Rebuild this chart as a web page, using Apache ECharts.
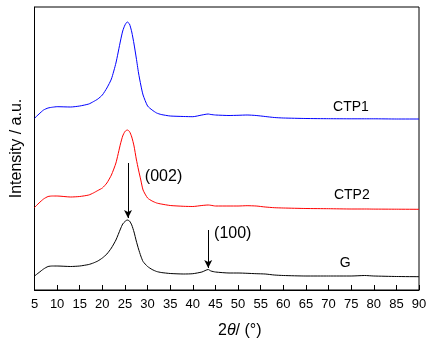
<!DOCTYPE html>
<html><head><meta charset="utf-8">
<script src="https://cdn.jsdelivr.net/npm/echarts@6/dist/echarts.min.js"></script>
<style>html,body{margin:0;padding:0;background:#fff}#c{width:436px;height:348px}</style>
</head><body><div id="c"></div>
<script>
// 2θ values (degrees)
const twoTheta = [5,6,7,8,9,10,13,15,17,18,19,20,21,22,23,24,24.5,25,25.5,26,26.5,27,27.5,28,28.5,29,30,31,32,33,35,38,40,42,43.4,44,45,48,50,52,54,56,58,60,65,70,75,78,80,85,90];
// Intensity (a.u., vertically offset)
const ctp1 = [171.7,176,180,182,182.8,183.3,183,184,186,188.3,191,195,202,211,227,249,259,265,268,266,258,246,232,217,205,195,184,180,177,175.5,174,173.5,173.3,175,176,175.5,175,174.5,174.7,175,174.5,173.5,172.5,172,171.5,171.3,171.2,171.2,171.2,171,171];
const ctp2 = [82.5,87,91,93.5,94,94,93,93.5,95,97,99.5,102,107,115,127,146,154,158.5,160,158.5,153,144,131,120,110,100,92,89,87,86,84.5,83.7,83.5,84.5,85,84.7,84,84,84,84.3,84,83,82.3,82,81.5,81.3,81,81,80.9,80.8,80.7];
const gSample = [14,17.5,21,23.5,24,24,23.5,24,25.5,27,29,32,36,42,50,61,66,68.5,70,69,65,58,49,41,34,28.5,23.5,20.5,18.5,17.5,16.5,16,16.3,18,20.5,19,18,17,17,16.7,16.3,16,15,14.5,14,14,14,14.5,14,13.5,13.3];
const xTicks = [5,10,15,20,25,30,35,40,45,50,55,60,65,70,75,80,85,90];
const seriesNames = ['CTP1','CTP2','G'];
const colors = ['#0000ff','#ff0000','#000000'];
// annotation texts: [text, 2θ, intensity, fontSize]
const annotations = [['CTP1',71.0,183,14],['CTP2',71.2,95,14],['G',72.5,27,14],['(002)',29.4,113,16],['(100)',44.7,56,16]];

const chart = echarts.init(document.getElementById('c'), null, {renderer:'canvas'});
const font = 'Liberation Sans, Arial, sans-serif';
function pairs(arr){ return twoTheta.map((x,i)=>[x,arr[i]]); }
const option = {
  animation:false,
  grid:{left:34.5, right:17, top:7, bottom:58, show:true, borderColor:'#000', borderWidth:1, backgroundColor:'transparent'},
  xAxis:{type:'value', min:5, max:90, interval:5,
    axisLine:{show:true, lineStyle:{color:'#000', width:1}},
    axisTick:{show:true, inside:true, length:5, lineStyle:{color:'#000'}},
    axisLabel:{color:'#000', fontSize:13, fontFamily:font, margin:8, showMinLabel:true, showMaxLabel:true},
    splitLine:{show:false}},
  yAxis:{type:'value', min:0, max:283,
    axisLine:{show:true, lineStyle:{color:'#000'}}, axisTick:{show:false}, axisLabel:{show:false}, splitLine:{show:false},
    name:'Intensity / a.u.', nameLocation:'middle', nameGap:10,
    nameTextStyle:{color:'#000', fontSize:16, fontFamily:font}},
  series:[
    {name:seriesNames[0], type:'line', data:pairs(ctp1), showSymbol:false, smooth:0.2, lineStyle:{color:colors[0], width:1}, itemStyle:{color:colors[0]}},
    {name:seriesNames[1], type:'line', data:pairs(ctp2), showSymbol:false, smooth:0.2, lineStyle:{color:colors[1], width:1}, itemStyle:{color:colors[1]}},
    {name:seriesNames[2], type:'line', data:pairs(gSample), showSymbol:false, smooth:0.2, lineStyle:{color:colors[2], width:1}, itemStyle:{color:colors[2]},
      markLine:{silent:true, symbol:['none','arrow'], symbolSize:[6,8], label:{show:false},
        lineStyle:{color:'#000', width:1, type:'solid'},
        data:[[{coord:[25.67,127]},{coord:[25.67,72]}],[{coord:[43.4,60]},{coord:[43.4,22]}]]}}
  ]
};
chart.setOption(option);
const g = annotations.map(a=>{
  const p = chart.convertToPixel({gridIndex:0},[a[1],a[2]]);
  return {type:'text', x:p[0], y:p[1], style:{text:a[0], fontSize:a[3], fontFamily:font, fill:'#000', verticalAlign:'middle', align:'left'}};
});
g.push({type:'text', left:218, top:323, style:{
    text:'{a|2}{b|θ}{a|/ (°)}',
    rich:{a:{fontSize:16, fontFamily:font, fill:'#000'}, b:{fontSize:16, fontFamily:font, fontStyle:'italic', fill:'#000'}}}});
chart.setOption({graphic:g});
</script></body></html>
